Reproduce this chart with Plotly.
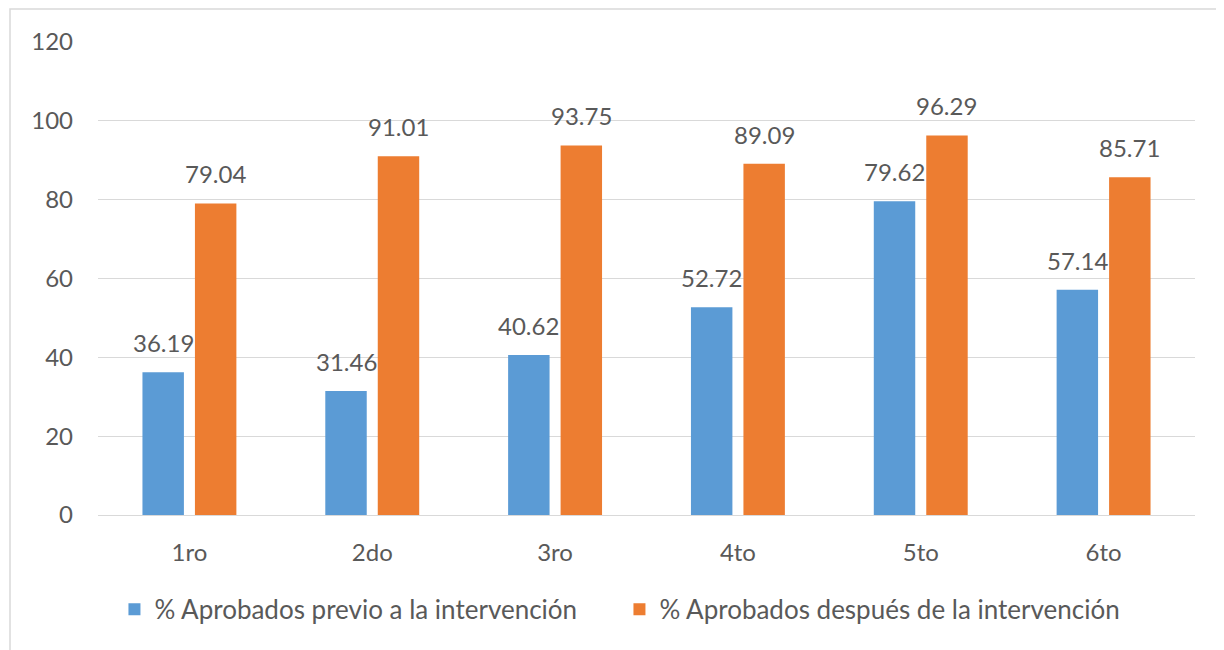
import plotly.graph_objects as go

categories = ["1ro", "2do", "3ro", "4to", "5to", "6to"]
previo = [36.19, 31.46, 40.62, 52.72, 79.62, 57.14]
despues = [79.04, 91.01, 93.75, 89.09, 96.29, 85.71]
series_names = ["% Aprobados previo a la intervención", "% Aprobados después de la intervención"]
y_ticks = [0, 20, 40, 60, 80, 100, 120]

FONT = "Lato, Carlito, 'Open Sans', sans-serif"
TXT = "#595959"
COLORS = ["#5B9BD5", "#ED7D31"]

W, H = 1216, 642
L, R, T, B = 90, 29, 34, 135
pw, ph = W - L - R, H - T - B
BARGAP, GROUPGAP = 0.426, 0.21

fig = go.Figure()
for name, vals, col in zip(series_names, [previo, despues], COLORS):
    fig.add_trace(go.Bar(x=categories, y=vals, name=name, marker_color=col,
                         marker_line_width=0))

# data labels above each bar
slot_px = pw / len(categories) * (1 - BARGAP) / 2
annotations = []
for k, vals in enumerate([previo, despues]):
    shift = (k - 0.5) * slot_px
    for c, v in zip(categories, vals):
        annotations.append(dict(x=c, y=v, xref="x", yref="y", text=f"{v:.2f}",
                                showarrow=False, xshift=shift, yshift=13,
                                yanchor="bottom", xanchor="center",
                                font=dict(size=24, color=TXT, family=FONT)))

fig.update_layout(
    width=W, height=H,
    margin=dict(l=L, r=R, t=T, b=B),
    paper_bgcolor="white", plot_bgcolor="white",
    barmode="group", bargap=BARGAP, bargroupgap=GROUPGAP,
    font=dict(family=FONT, size=24, color=TXT),
    showlegend=True,
    legend=dict(orientation="h", x=0.015, xanchor="left", y=-0.15, yanchor="top",
                font=dict(size=26, color=TXT), itemwidth=30, entrywidth=460),
    xaxis=dict(showgrid=False, showline=True, linecolor="#d9d9d9", linewidth=1,
               tickfont=dict(size=24, color=TXT), ticks="", ticklabelstandoff=16),
    yaxis=dict(range=[0, 120], tickvals=y_ticks, showgrid=True, gridcolor="#d9d9d9",
               zeroline=False, tickfont=dict(size=24, color=TXT), ticks="", ticklabelstandoff=24),
    annotations=annotations,
    shapes=[dict(type="rect", xref="paper", yref="paper",
                 x0=(2 - L) / pw, x1=(W + 30 - L) / pw,
                 y0=(T + ph - (H + 30)) / ph, y1=(T + ph - 1) / ph,
                 line=dict(color="#d9d9d9", width=1.5), fillcolor="rgba(0,0,0,0)", layer="below")],
)

fig.write_html("out.html")
